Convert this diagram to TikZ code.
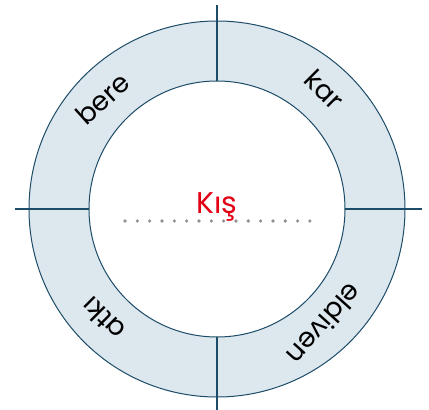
\documentclass[tikz,border=0pt]{standalone}
\usepackage{fontspec}
\setmainfont{Poppins}
\usetikzlibrary{positioning}
\definecolor{ringblue}{RGB}{28,76,104}
\definecolor{ringfill}{RGB}{221,231,238}
\definecolor{kisred}{RGB}{228,0,20}
\definecolor{dotgray}{RGB}{145,145,145}

\begin{document}
\begin{tikzpicture}[x=1pt,y=1pt,
    word/.style={font=\fontsize{27}{27}\selectfont,inner sep=0pt},
    tick/.style={ringblue,line width=1.1pt}]
    \useasboundingbox (-217,-201) rectangle (212,209);
    % ring
    \fill[ringfill,even odd rule] (0,0) circle (188) (0,0) circle (128);
    \draw[ringblue,line width=1pt] (0,0) circle (188) (0,0) circle (128);
    \draw[tick] (-202,0) -- (-128,0);
    \draw[tick] (128,0) -- (205,0);
    \draw[tick] (0,204) -- (0,128);
    \draw[tick] (0,-128) -- (0,-201);
    % words
    \node[word,rotate=42] (bere) at (136:159) {bere};
    \node[word,rotate=-45] (kar) at (48:161) {kar};
    \node[word,rotate=228] (eldiven) at (-47:158) {eldiven};
    \node[word,rotate=135] (atki) at (224:158) {atkı};
    % centre
    \node[font=\fontsize{30}{30}\selectfont,text=kisred,anchor=base,
          inner sep=0pt] (kis) at (0,-4) {Kış};
    \foreach \i in {0,...,15}
      \fill[dotgray] (-92+\i*12.33,-12) circle (1.8);
  \end{tikzpicture}
\end{document}
